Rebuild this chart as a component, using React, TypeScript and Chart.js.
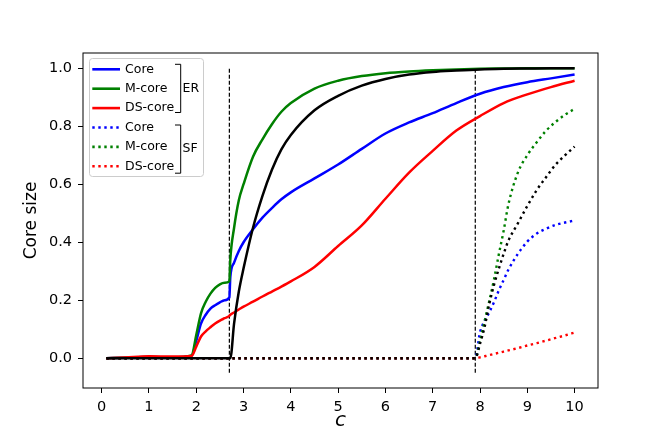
import React, { useEffect, useRef } from 'react';
import { Chart, registerables } from 'chart.js';
Chart.register(...registerables);

// ER curves, all sampled on the same c values
const erC = [0.1, 0.5, 1.0, 1.5, 1.9, 2.0, 2.1, 2.2, 2.3, 2.4, 2.5, 2.6, 2.7, 2.72, 2.8, 2.9, 3.0, 3.2, 3.4, 3.6, 3.8, 4.0, 4.5, 5.0, 5.5, 6.0, 6.5, 7.0, 7.5, 8.0, 8.5, 9.0, 9.5, 10.0];
const erCore = [0, 0.002, 0.004, 0.003, 0.008, 0.06, 0.12, 0.15, 0.171, 0.183, 0.193, 0.2, 0.21, 0.28, 0.33, 0.37, 0.4, 0.445, 0.485, 0.518, 0.548, 0.572, 0.62, 0.668, 0.722, 0.775, 0.813, 0.845, 0.88, 0.912, 0.935, 0.952, 0.965, 0.978];
const erMCore = [0, 0.002, 0.004, 0.003, 0.01, 0.08, 0.155, 0.195, 0.223, 0.243, 0.255, 0.26, 0.265, 0.34, 0.45, 0.545, 0.6, 0.695, 0.755, 0.807, 0.85, 0.88, 0.93, 0.957, 0.973, 0.983, 0.989, 0.993, 0.996, 0.998, 0.999, 1.0, 1.0, 1.0];
const erDSCore = [0, 0.003, 0.007, 0.006, 0.008, 0.04, 0.075, 0.093, 0.107, 0.12, 0.13, 0.138, 0.146, 0.15, 0.158, 0.168, 0.178, 0.195, 0.213, 0.23, 0.247, 0.265, 0.315, 0.387, 0.458, 0.55, 0.64, 0.715, 0.785, 0.835, 0.88, 0.91, 0.935, 0.957];
const erTheory = [0, 0, 0, 0, 0, 0, 0, 0, 0, 0, 0, 0, 0, 0, 0.12, 0.23, 0.31, 0.45, 0.56, 0.65, 0.72, 0.77, 0.855, 0.905, 0.94, 0.963, 0.978, 0.987, 0.992, 0.996, 0.998, 0.999, 1.0, 1.0];

// SF curves
const sfC = [0.1, 7.9, 8.0, 8.1, 8.2, 8.3, 8.4, 8.5, 8.6, 8.8, 9.0, 9.2, 9.4, 9.6, 9.8, 10.0];
const sfCore = [0, 0, 0.09, 0.13, 0.16, 0.195, 0.235, 0.27, 0.305, 0.36, 0.402, 0.43, 0.447, 0.46, 0.468, 0.475];
const sfMCore = [0, 0, 0.06, 0.13, 0.2, 0.275, 0.36, 0.44, 0.53, 0.64, 0.7, 0.745, 0.785, 0.815, 0.84, 0.86];
const sfDSCore = [0, 0, 0.003, 0.007, 0.011, 0.015, 0.019, 0.023, 0.027, 0.035, 0.044, 0.052, 0.061, 0.07, 0.079, 0.089];
const sfTheory = [0, 0, 0.05, 0.11, 0.19, 0.255, 0.31, 0.36, 0.405, 0.465, 0.525, 0.58, 0.625, 0.668, 0.7, 0.73];

// vertical thresholds
const thresholdC = [2.7, 7.9];
const thresholdSpan = [-0.05, 1.0];

const xTicks = [0, 1, 2, 3, 4, 5, 6, 7, 8, 9, 10];
const yTicks = [0, 0.2, 0.4, 0.6, 0.8, 1.0];

const seriesLabels = ['Core', 'M-core', 'DS-core'];
const seriesColors = ['#0000ff', '#008000', '#ff0000'];
const groupNames = ['ER', 'SF'];

const FONT = '"DejaVu Sans", sans-serif';
const DOT = [2.4, 3.6];

const pts = (xs: number[], ys: number[]) => xs.map((x, i) => ({ x, y: ys[i] }));

const framePlugin = {
  id: 'frame',
  afterDatasetsDraw(chart: any) {
    const { ctx, chartArea: a } = chart;
    ctx.save();
    ctx.strokeStyle = '#000';
    ctx.lineWidth = 1;
    ctx.strokeRect(a.left, a.top, a.right - a.left, a.bottom - a.top);
    ctx.restore();
  },
};

const legendPlugin = {
  id: 'bracketLegend',
  afterDraw(chart: any) {
    const { ctx, chartArea } = chart;
    const l = chartArea.left;
    const t = chartArea.top;
    ctx.save();
    ctx.beginPath();
    ctx.roundRect(l + 6.5, t + 5.5, 114, 118, 3);
    ctx.fillStyle = 'rgba(255,255,255,0.8)';
    ctx.fill();
    ctx.strokeStyle = '#cccccc';
    ctx.lineWidth = 1;
    ctx.stroke();

    ctx.font = `12.5px ${FONT}`;
    ctx.textBaseline = 'middle';
    groupNames.forEach((g, gi) => {
      seriesLabels.forEach((lab, si) => {
        const y = t + 16.3 + (gi * 3 + si) * 19.4;
        ctx.beginPath();
        ctx.setLineDash(gi === 1 ? DOT : []);
        ctx.strokeStyle = seriesColors[si];
        ctx.lineWidth = 2.6;
        ctx.moveTo(l + 9.3, y);
        ctx.lineTo(l + 37, y);
        ctx.stroke();
        ctx.setLineDash([]);
        ctx.fillStyle = '#000';
        ctx.fillText(lab, l + 42, y);
      });
      // bracket
      const top = t + 11.3 + gi * 60.7;
      const bot = top + 48.2;
      ctx.beginPath();
      ctx.strokeStyle = '#000';
      ctx.lineWidth = 1;
      ctx.moveTo(l + 92, top);
      ctx.lineTo(l + 97.7, top);
      ctx.lineTo(l + 97.7, bot);
      ctx.lineTo(l + 92, bot);
      ctx.stroke();
      ctx.fillText(g, l + 99.5, (top + bot) / 2);
    });
    ctx.restore();
  },
};

export default function App(): React.ReactElement {
  const canvasRef = useRef<HTMLCanvasElement | null>(null);
  const chartRef = useRef<Chart | null>(null);

  useEffect(() => {
    if (!canvasRef.current) return;
    const ctx = canvasRef.current.getContext('2d');
    if (!ctx) return;
    if (chartRef.current) chartRef.current.destroy();

    const line = (data: any, color: string, order: number, dotted = false) => ({
      data,
      borderColor: color,
      backgroundColor: color,
      borderWidth: dotted ? 2.4 : 2.5,
      borderDash: dotted ? DOT : [],
      borderCapStyle: 'butt',
      pointRadius: 0,
      cubicInterpolationMode: 'monotone',
      fill: false,
      order,
    });

    const datasets: any[] = [
      line(pts(erC, erTheory), '#000000', 1),
      line(pts(sfC, sfTheory), '#000000', 2, true),
      line(pts(sfC, sfDSCore), seriesColors[2], 3, true),
      line(pts(sfC, sfMCore), seriesColors[1], 4, true),
      line(pts(sfC, sfCore), seriesColors[0], 5, true),
      line(pts(erC, erDSCore), seriesColors[2], 6),
      line(pts(erC, erMCore), seriesColors[1], 7),
      line(pts(erC, erCore), seriesColors[0], 8),
      ...thresholdC.map((c) => ({
        data: thresholdSpan.map((y) => ({ x: c, y })),
        borderColor: '#000000',
        borderWidth: 1.2,
        borderDash: [4, 2],
        pointRadius: 0,
        order: 9,
      })),
    ];

    chartRef.current = new Chart(ctx, {
      type: 'line',
      data: { datasets },
      plugins: [framePlugin, legendPlugin],
      options: {
        responsive: true,
        maintainAspectRatio: false,
        animation: false,
        layout: { padding: { left: 0, top: 53, right: 66, bottom: 0 } },
        plugins: {
          legend: { display: false },
          tooltip: { enabled: false },
        },
        scales: {
          x: {
            type: 'linear',
            min: -0.395,
            max: 10.495,
            afterFit: (s: any) => { s.height = 55; },
            afterBuildTicks: (s: any) => { s.ticks = xTicks.map((v) => ({ value: v })); },
            grid: { display: true, drawOnChartArea: false, drawTicks: true, tickLength: 5, color: '#000' },
            border: { display: false },
            ticks: {
              autoSkip: false,
              maxRotation: 0,
              padding: 6,
              color: '#000',
              font: { family: FONT, size: 14.5 },
              callback: (v: any) => String(v),
            },
            title: {
              display: true,
              text: 'c',
              color: '#000',
              font: { family: FONT, size: 20, style: 'italic' },
              padding: { top: 0, bottom: 10 },
            },
          },
          y: {
            min: -0.1025,
            max: 1.0525,
            afterFit: (s: any) => { s.width = 83; },
            afterBuildTicks: (s: any) => { s.ticks = yTicks.map((v) => ({ value: v })); },
            grid: { display: true, drawOnChartArea: false, drawTicks: true, tickLength: 5, color: '#000' },
            border: { display: false },
            ticks: {
              padding: 6,
              color: '#000',
              font: { family: FONT, size: 14.5 },
              callback: (v: any) => Number(v).toFixed(1),
            },
            title: {
              display: true,
              text: 'Core size',
              color: '#000',
              font: { family: FONT, size: 17 },
              padding: { top: 21, bottom: 0 },
            },
          },
        },
      },
    });

    return () => {
      if (chartRef.current) {
        chartRef.current.destroy();
        chartRef.current = null;
      }
    };
  }, []);

  return (
    <div style={{ position: 'fixed', left: 0, top: 0, width: 664, height: 443, background: '#fff' }}>
      <canvas ref={canvasRef} />
    </div>
  );
}
